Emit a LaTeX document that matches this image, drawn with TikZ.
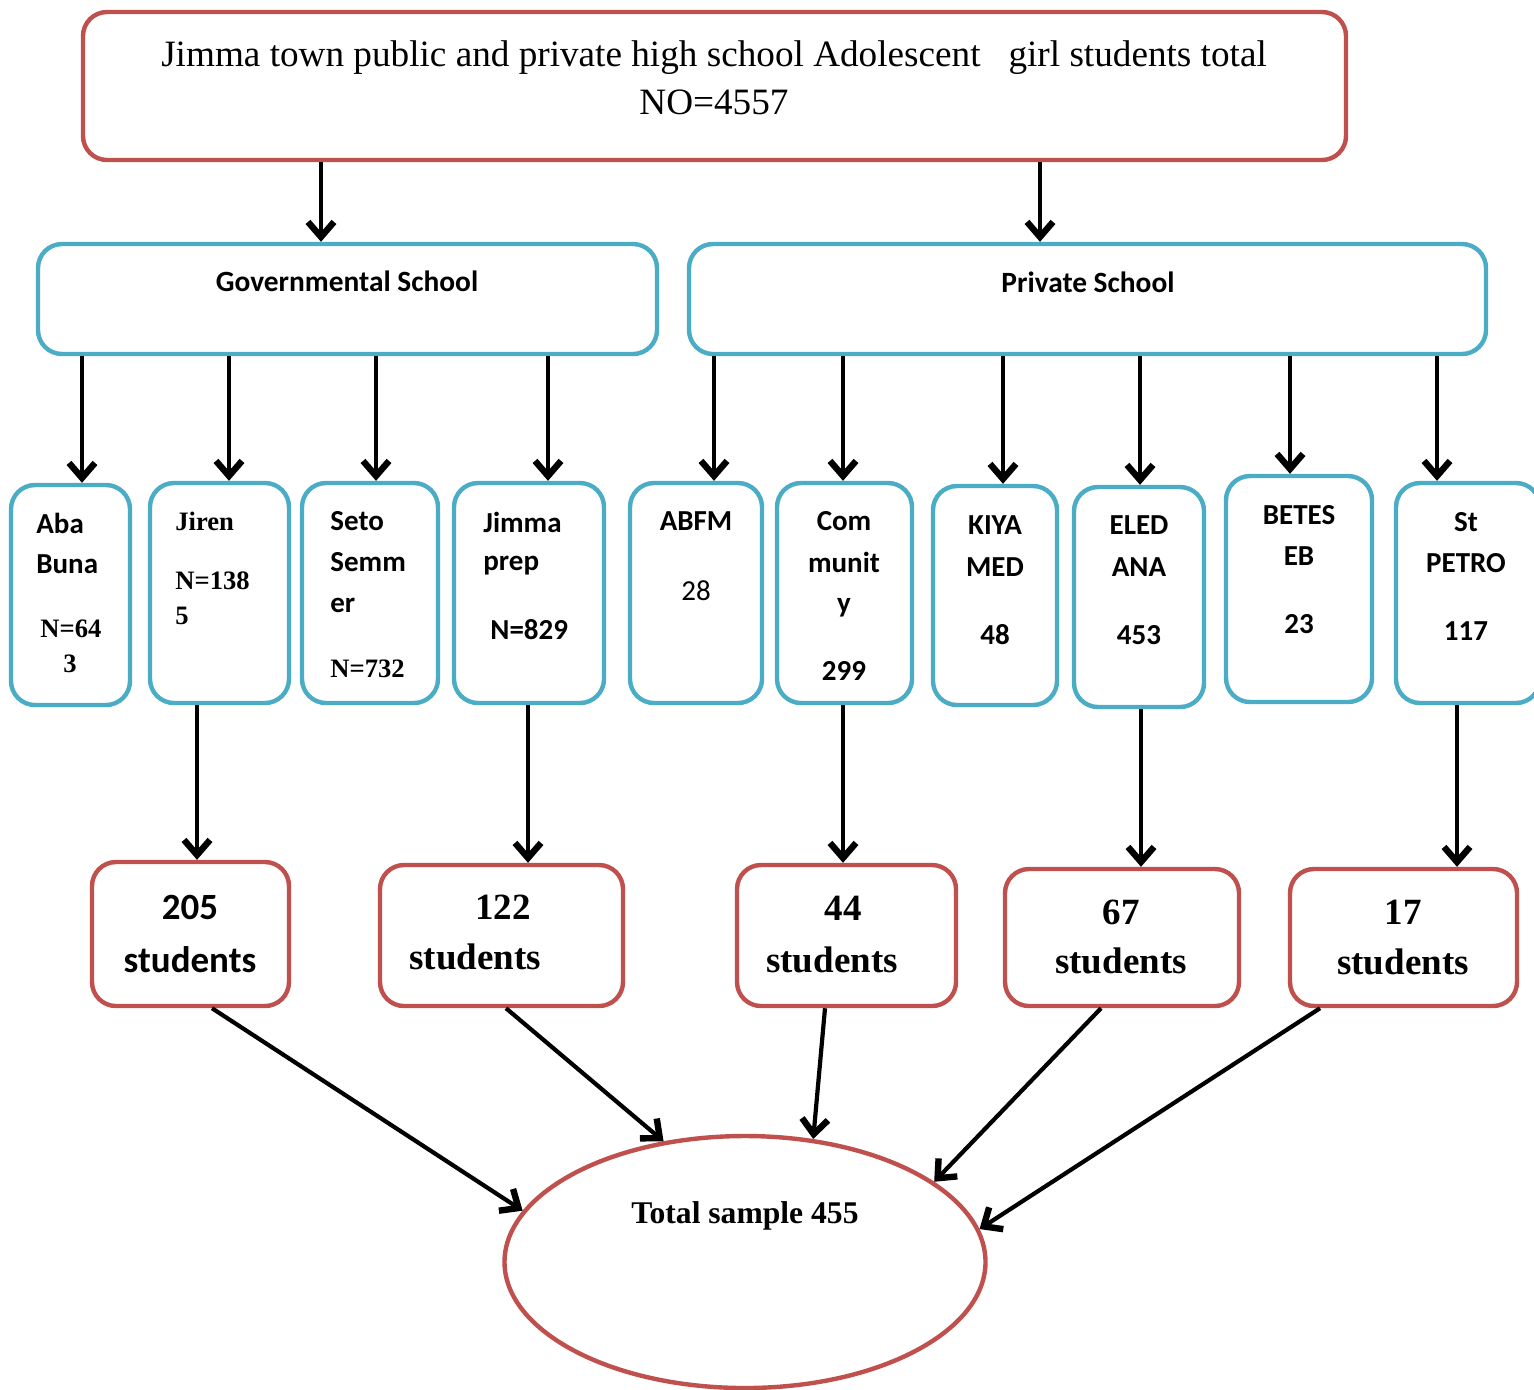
\documentclass[tikz,border=0pt]{standalone}
\usepackage{fontspec}
\setmainfont{Liberation Serif}
\newfontfamily\calfont{Carlito}
\usetikzlibrary{arrows.meta,shapes.geometric}
\definecolor{boxred}{HTML}{C0504D}
\definecolor{boxblue}{HTML}{4BACC6}
\begin{document}
\begin{tikzpicture}[x=0.5pt,y=-0.5pt,
  redbox/.style={draw=boxred, line width=2.2pt, rounded corners=12pt, fill=white, inner sep=0pt},
  bluebox/.style={draw=boxblue, line width=2.2pt, rounded corners=12pt, fill=white, inner sep=0pt},
  arr/.style={line width=2.1pt, -{Straight Barb[length=7.5pt,width=13pt,line width=3.2pt]}},
  sl/.style={inner sep=0pt, font=\calfont\bfseries\fontsize{14.5}{17}\selectfont},
  slr/.style={inner sep=0pt, font=\calfont\fontsize{14.5}{17}\selectfont},
  sn/.style={inner sep=0pt, font=\bfseries\fontsize{13.3}{16}\selectfont},
  bigc/.style={inner sep=0pt, font=\calfont\bfseries\fontsize{18.5}{22}\selectfont},
  bigt/.style={inner sep=0pt, font=\bfseries\fontsize{18.5}{22}\selectfont},
  hdr/.style={inner sep=0pt, font=\calfont\bfseries\fontsize{14.7}{17}\selectfont}
]
\useasboundingbox (0,0) rectangle (1534,1389);

% top box
\node[redbox, minimum width=631.5pt, minimum height=74pt] (top) at (714.5,86) {};
\node[inner sep=0pt, align=center, font=\fontsize{18.6}{24}\selectfont] (ttl) at (714,78)
  {Jimma town public and private high school Adolescent~~~girl students total\\NO=4557};

% second level
\node[bluebox, minimum width=309.5pt, minimum height=55pt] (gov) at (347.5,299) {};
\node[bluebox, minimum width=398.5pt, minimum height=55pt] (priv) at (1087.5,299) {};
\node[hdr] (govt) at (347,281) {Governmental School};
\node[hdr] (privt) at (1088,282) {Private School};

% schools
\node[bluebox, minimum width=59.5pt, minimum height=110pt] (s1) at (70.5,595) {};
\node[bluebox, minimum width=69.5pt, minimum height=110pt] (s2) at (219.5,593) {};
\node[bluebox, minimum width=68pt, minimum height=110pt] (s3) at (370,593) {};
\node[bluebox, minimum width=75pt, minimum height=110pt] (s4) at (529,593) {};
\node[bluebox, minimum width=66pt, minimum height=110pt] (s5) at (696,593) {};
\node[bluebox, minimum width=67.5pt, minimum height=110pt] (s6) at (844.5,593) {};
\node[bluebox, minimum width=62pt, minimum height=109.5pt] (s7) at (995,595.5) {};
\node[bluebox, minimum width=65pt, minimum height=110pt] (s8) at (1139,597) {};
\node[bluebox, minimum width=73pt, minimum height=113pt] (s9) at (1299,589) {};
\node[bluebox, minimum width=72pt, minimum height=110pt] (s10) at (1468,593) {};

\node[sl, anchor=west] (a1) at (36,523) {Aba};
\node[sl, anchor=west] (a2) at (36,564) {Buna};
\node[sn, anchor=west] (a3) at (40,629) {N=64};
\node[sn] (a4) at (70,664) {3};

\node[sn, anchor=west] (b1t) at (175,521) {Jiren};
\node[sn, anchor=west] (b2t) at (175,581) {N=138};
\node[sn, anchor=west] (b3t) at (175,616) {5};

\node[sl, anchor=west] (c1) at (330,521) {Seto};
\node[sl, anchor=west] (c2) at (330,562) {Semm};
\node[sl, anchor=west] (c3) at (330,605) {er};
\node[sn, anchor=west] (c4) at (330,669) {N=732};

\node[sl, anchor=west] (d1) at (483,522) {Jimma};
\node[sl, anchor=west] (d2) at (483,566) {prep};
\node[sl, anchor=west] (d3) at (490,630) {N=829};

\node[sl] (e1) at (696,521) {ABFM};
\node[slr] (e2) at (696,591) {28};

\node[sl] (f1) at (844,521) {Com};
\node[sl] (f2) at (844,562) {munit};
\node[sl] (f3) at (844,608) {y};
\node[sl] (f4) at (844,671) {299};

\node[sl] (g1) at (995,525) {KIYA};
\node[sl] (g2) at (995,567) {MED};
\node[sl] (g3) at (995,635) {48};

\node[sl] (h1) at (1139,525) {ELED};
\node[sl] (h2) at (1139,567) {ANA};
\node[sl] (h3) at (1139,635) {453};

\node[sl] (i1) at (1299,515) {BETES};
\node[sl] (i2) at (1299,556) {EB};
\node[sl] (i3) at (1299,624) {23};

\node[sl] (j1) at (1466,522) {St};
\node[sl] (j2) at (1466,563) {PETRO};
\node[sl] (j3) at (1466,631) {117};

% student boxes
\node[redbox, minimum width=98.5pt, minimum height=72pt] (b1) at (190.5,934) {};
\node[redbox, minimum width=121.5pt, minimum height=70.5pt] (b2) at (501.5,935.5) {};
\node[redbox, minimum width=109.5pt, minimum height=70.5pt] (b3) at (846.5,935.5) {};
\node[redbox, minimum width=117pt, minimum height=68.5pt] (b4) at (1122,937.5) {};
\node[redbox, minimum width=113.5pt, minimum height=68.5pt] (b5) at (1403.5,937.5) {};

\node[bigc] (n1) at (190,907) {205};
\node[bigc] (m1) at (190,960) {students};
\node[bigt] (n2) at (503,907) {122};
\node[bigt, anchor=west] (m2) at (409,957) {students};
\node[bigt] (n3) at (843,908) {44};
\node[bigt] (m3) at (832,960) {students};
\node[bigt] (n4) at (1121,912) {67};
\node[bigt] (m4) at (1121,961) {students};
\node[bigt] (n5) at (1403,912) {17};
\node[bigt] (m5) at (1403,962) {students};

% total ellipse
\node[ellipse, draw=boxred, line width=2.2pt, fill=white, inner sep=0pt,
      minimum width=240.5pt, minimum height=126pt] (tot) at (745,1262) {};
\node[inner sep=0pt, font=\bfseries\fontsize{15.8}{19}\selectfont] (tott) at (745,1216) {Total sample 455};

% arrows level 1
\draw[arr] (321,0 |- top.south) -- (321,0 |- gov.north);
\draw[arr] (1040,0 |- top.south) -- (1040,0 |- priv.north);

% arrows to schools
\draw[arr] (82,0 |- gov.south) -- (82,0 |- s1.north);
\draw[arr] (229,0 |- gov.south) -- (229,0 |- s2.north);
\draw[arr] (376,0 |- gov.south) -- (376,0 |- s3.north);
\draw[arr] (548,0 |- gov.south) -- (548,0 |- s4.north);
\draw[arr] (714,0 |- priv.south) -- (714,0 |- s5.north);
\draw[arr] (843,0 |- priv.south) -- (843,0 |- s6.north);
\draw[arr] (1003,0 |- priv.south) -- (1003,0 |- s7.north);
\draw[arr] (1140,0 |- priv.south) -- (1140,0 |- s8.north);
\draw[arr] (1290,0 |- priv.south) -- (1290,0 |- s9.north);
\draw[arr] (1437,0 |- priv.south) -- (1437,0 |- s10.north);

% arrows to student boxes
\draw[arr] (197,0 |- s2.south) -- (197,0 |- b1.north);
\draw[arr] (528,0 |- s4.south) -- (528,0 |- b2.north);
\draw[arr] (843,0 |- s6.south) -- (843,0 |- b3.north);
\draw[arr] (1141,0 |- s8.south) -- (1141,0 |- b4.north);
\draw[arr] (1457,0 |- s10.south) -- (1457,0 |- b5.north);

% arrows to total
\draw[arr] ([xshift=10.75pt]b1.south) -- (tot.167);
\draw[arr] ([xshift=2.25pt]b2.south) -- (tot.124);
\draw[arr] ([xshift=-10.75pt]b3.south) -- (tot.61);
\draw[arr] ([xshift=-10.5pt]b4.south) -- (tot.23);
\draw[arr] ([xshift=-41.75pt]b5.south) -- (tot.8);
\end{tikzpicture}
\end{document}
